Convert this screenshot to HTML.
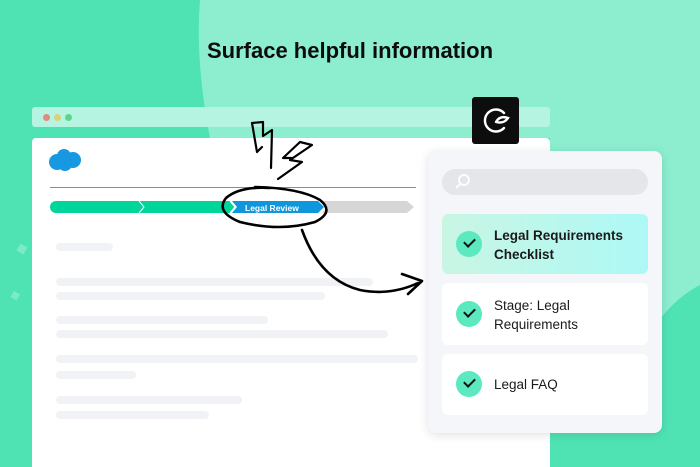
<!DOCTYPE html>
<html><head><style>
body{margin:0;width:700px;height:467px;overflow:hidden;position:relative;font-family:"Liberation Sans",sans-serif;background:#4fe3b4}
.a{position:absolute}
.sk{position:absolute;height:8px;background:#f1f2f6;border-radius:4px;left:56px}
.item{position:absolute;left:442px;width:206px;border-radius:6px;background:#fff}
.ck{position:absolute;left:14px;width:26px;height:26px;border-radius:50%;background:#5ce9c0}
.ck:after{content:"";position:absolute;left:8px;top:7px;width:9px;height:5px;border-left:2px solid #111;border-bottom:2px solid #111;transform:rotate(-45deg)}
.t{position:absolute;left:52px;font-size:13.5px;line-height:19px;color:#1a1a1a}
</style></head><body>
<svg class="a" style="left:0;top:0" width="700" height="467">
<path d="M200 0 L700 0 L700 285 Q670 300 645 340 L550 340 L550 138 L210 138 Q195 60 200 0Z" fill="#8ceecf"/>
<rect x="18" y="245" width="8" height="8" fill="#7beac7" transform="rotate(30 22 249)"/>
<rect x="12" y="292" width="7" height="7" fill="#7beac7" transform="rotate(30 15 295)"/>
</svg>
<div class="a" style="left:0;top:38px;width:700px;text-align:center;font-size:22px;font-weight:bold;color:#0c0c0c">Surface helpful information</div>
<div class="a" style="left:32px;top:107px;width:518px;height:20px;background:#b4f4e0;border-radius:3px"></div>
<div class="a" style="left:43px;top:114px;width:7px;height:7px;border-radius:50%;background:#e08a80"></div>
<div class="a" style="left:54px;top:114px;width:7px;height:7px;border-radius:50%;background:#d9d27a"></div>
<div class="a" style="left:65px;top:114px;width:7px;height:7px;border-radius:50%;background:#5bd68a"></div>
<div class="a" style="left:32px;top:138px;width:518px;height:329px;background:#fff;border-radius:4px 4px 0 0"></div>
<svg class="a" style="left:48px;top:148px" width="34" height="24"><g fill="#1798e0"><circle cx="9" cy="14" r="8"/><circle cx="16" cy="8" r="7"/><circle cx="25" cy="12" r="8"/><circle cx="17" cy="16" r="7"/></g></svg>
<div class="a" style="left:50px;top:187px;width:366px;height:1px;background:#3aa6e8"></div>
<svg class="a" style="left:50px;top:200px" width="370" height="16">
<path d="M6 1 H180 L185 7 L180 13 H6 A6 6 0 0 1 6 1Z" fill="#00d69a"/>
<polyline points="89,1 94,7 89,13" fill="none" stroke="#fff" stroke-width="1"/>
<polyline points="180,1 185,7 180,13" fill="none" stroke="#fff" stroke-width="1.2"/>
<path d="M272 1 H357 L364 7 L357 13 H272 L277 7Z" fill="#d6d6d6"/>
<path d="M182 1 H268 L274 7 L268 13 H182 L187 7Z" fill="#0f97dd"/>
<text x="195" y="11" font-size="8.5" font-weight="bold" fill="#fff" font-family="Liberation Sans">Legal Review</text>
</svg>
<div class="sk" style="top:243px;width:57px"></div>
<div class="sk" style="top:278px;width:317px"></div>
<div class="sk" style="top:292px;width:269px"></div>
<div class="sk" style="top:316px;width:212px"></div>
<div class="sk" style="top:330px;width:332px"></div>
<div class="sk" style="top:355px;width:362px"></div>
<div class="sk" style="top:371px;width:80px"></div>
<div class="sk" style="top:396px;width:186px"></div>
<div class="sk" style="top:411px;width:153px"></div>
<svg class="a" style="left:0;top:0" width="700" height="467" fill="none" stroke="#000" stroke-width="2.6" stroke-linecap="round" stroke-linejoin="round">
<path d="M270 188 Q240 186 226 198 Q215 212 240 222 Q280 232 315 222 Q335 212 320 200 Q300 188 255 187"/>
<path d="M271 168 L272 130 L263 136 L263 122 L252 123 L257 152 L262 147" stroke-width="2.2"/>
<path d="M278 179 L302 162 L290 160 L312 145 L300 142 L283 158 L292 158" stroke-width="2.2"/>
<path d="M302 230 Q320 280 360 290 Q390 296 418 283"/>
<path d="M402 274 L422 281 L408 294"/>
</svg>
<div class="a" style="left:472px;top:97px;width:47px;height:47px;background:#0d0d0d;border-radius:3px"></div>
<svg class="a" style="left:472px;top:97px" width="47" height="47" fill="none" stroke="#fff" stroke-width="2.4" stroke-linecap="round"><path d="M32 16 A11 11 0 1 0 32 31"/><path d="M24 25 Q28 18 36 21 Q32 27 24 25"/></svg>
<div class="a" style="left:428px;top:151px;width:234px;height:282px;background:#f5f6fa;border-radius:8px;box-shadow:0 2px 10px rgba(0,0,0,0.12)"></div>
<div class="a" style="left:442px;top:169px;width:206px;height:26px;background:#e4e6ea;border-radius:13px"></div>
<svg class="a" style="left:454px;top:173px" width="18" height="18" fill="none" stroke="#fff" stroke-width="1.8"><circle cx="10" cy="7" r="5"/><path d="M6 11 L2 15"/></svg>
<div class="item" style="top:214px;height:60px;background:linear-gradient(90deg,#c9f6e3,#adf8f6)"><div class="ck" style="top:17px"></div><div class="t" style="top:12px;font-weight:bold">Legal Requirements<br>Checklist</div></div>
<div class="item" style="top:283px;height:62px"><div class="ck" style="top:18px"></div><div class="t" style="top:13px">Stage: Legal<br>Requirements</div></div>
<div class="item" style="top:354px;height:61px"><div class="ck" style="top:17px"></div><div class="t" style="top:21px">Legal FAQ</div></div>
</body></html>
